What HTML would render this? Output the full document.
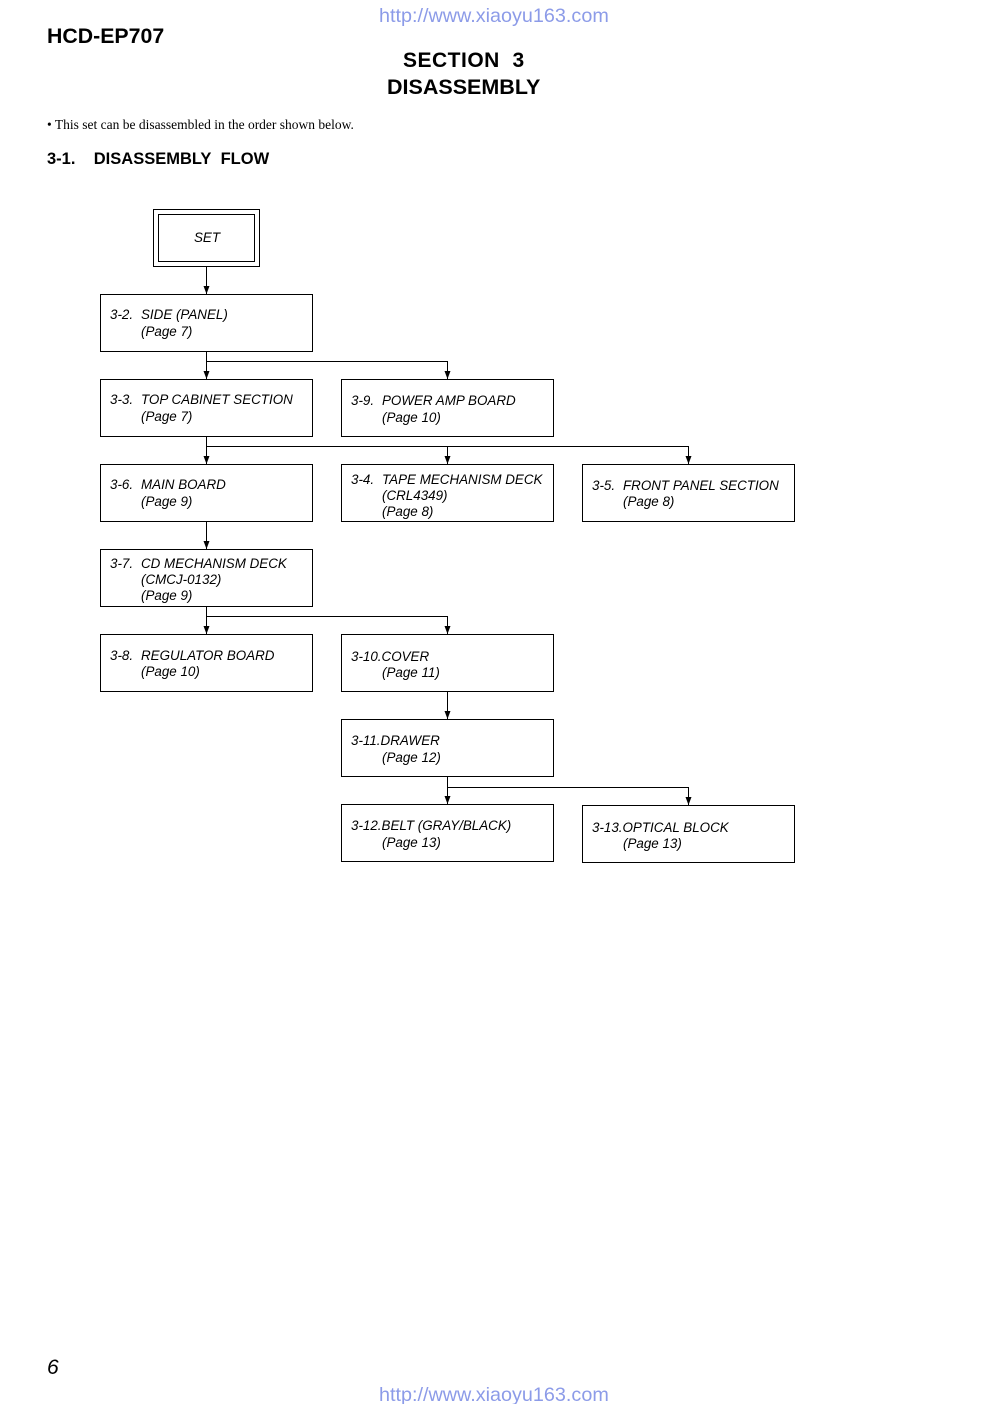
<!DOCTYPE html>
<html><head><meta charset="utf-8"><style>
body{margin:0;background:#fff;}
.p{position:relative;width:992px;height:1404px;overflow:hidden;font-family:"Liberation Sans",sans-serif;}
.a{position:absolute;white-space:nowrap;}
</style></head><body><div class="p">
<div class="a" style="left:379px;top:5px;font-size:19.8px;color:#8c9be8;">http://www.xiaoyu163.com</div>
<div class="a" style="left:47px;top:24px;font-size:21.3px;font-weight:bold;">HCD-EP707</div>
<div class="a" style="left:403px;top:49px;font-size:21px;font-weight:bold;letter-spacing:0.5px;">SECTION&nbsp;&nbsp;3</div>
<div class="a" style="left:387px;top:75px;font-size:21.5px;font-weight:bold;">DISASSEMBLY</div>
<div class="a" style="left:47px;top:117px;font-size:13.5px;font-family:'Liberation Serif',serif;">• This set can be disassembled in the order shown below.</div>
<div class="a" style="left:47px;top:150px;font-size:16.5px;font-weight:bold;">3-1.&nbsp;&nbsp;&nbsp;&nbsp;DISASSEMBLY&nbsp;&nbsp;FLOW</div>
<div class="a" style="left:47px;top:1356px;font-size:21px;font-style:italic;">6</div>
<div class="a" style="left:379px;top:1384px;font-size:19.8px;color:#8c9be8;">http://www.xiaoyu163.com</div>
<svg class="a" style="left:0;top:0" width="992" height="1404" font-family="Liberation Sans, sans-serif" font-size="13.4" font-style="italic">
<g fill="none" stroke="#000" stroke-width="1">
<rect x="153.5" y="209.5" width="106" height="57"/>
<rect x="158.5" y="214.5" width="96" height="47"/>
<rect x="100.5" y="294.5" width="212" height="57"/>
<rect x="100.5" y="379.5" width="212" height="57"/>
<rect x="341.5" y="379.5" width="212" height="57"/>
<rect x="100.5" y="464.5" width="212" height="57"/>
<rect x="341.5" y="464.5" width="212" height="57"/>
<rect x="582.5" y="464.5" width="212" height="57"/>
<rect x="100.5" y="549.5" width="212" height="57"/>
<rect x="100.5" y="634.5" width="212" height="57"/>
<rect x="341.5" y="634.5" width="212" height="57"/>
<rect x="341.5" y="719.5" width="212" height="57"/>
<rect x="341.5" y="804.5" width="212" height="57"/>
<rect x="582.5" y="805.5" width="212" height="57"/>
<path d="M206.5 267V294 M206.5 352V379 M206.5 361.5H447.5V379 M206.5 437V464 M206.5 446.5H688.5V464 M447.5 446.5V464 M206.5 522V549 M206.5 607V634 M206.5 616.5H447.5V634 M447.5 692V719 M447.5 777V804 M447.5 787.5H688.5V805"/>
</g>
<g fill="#000">
<path d="M203.5 286L206.5 294L209.5 286z M203.5 371L206.5 379L209.5 371z M444.5 371L447.5 379L450.5 371z M203.5 456L206.5 464L209.5 456z M444.5 456L447.5 464L450.5 456z M685.5 456L688.5 464L691.5 456z M203.5 541L206.5 549L209.5 541z M203.5 626L206.5 634L209.5 626z M444.5 626L447.5 634L450.5 626z M444.5 711L447.5 719L450.5 711z M444.5 796L447.5 804L450.5 796z M685.5 797L688.5 805L691.5 797z"/>
<text x="194" y="242">SET</text>
<text x="110" y="319">3-2.</text><text x="141" y="319">SIDE (PANEL)</text><text x="141" y="336">(Page 7)</text>
<text x="110" y="404">3-3.</text><text x="141" y="404">TOP CABINET SECTION</text><text x="141" y="421">(Page 7)</text>
<text x="351" y="405">3-9.</text><text x="382" y="405">POWER AMP BOARD</text><text x="382" y="422">(Page 10)</text>
<text x="110" y="489">3-6.</text><text x="141" y="489">MAIN BOARD</text><text x="141" y="506">(Page 9)</text>
<text x="351" y="484">3-4.</text><text x="382" y="484">TAPE MECHANISM DECK</text><text x="382" y="500">(CRL4349)</text><text x="382" y="516">(Page 8)</text>
<text x="592" y="490">3-5.</text><text x="623" y="490">FRONT PANEL SECTION</text><text x="623" y="506">(Page 8)</text>
<text x="110" y="568">3-7.</text><text x="141" y="568">CD MECHANISM DECK</text><text x="141" y="584">(CMCJ-0132)</text><text x="141" y="600">(Page 9)</text>
<text x="110" y="660">3-8.</text><text x="141" y="660">REGULATOR BOARD</text><text x="141" y="676">(Page 10)</text>
<text x="351" y="661">3-10.COVER</text><text x="382" y="677">(Page 11)</text>
<text x="351" y="745">3-11.DRAWER</text><text x="382" y="762">(Page 12)</text>
<text x="351" y="830">3-12.BELT (GRAY/BLACK)</text><text x="382" y="847">(Page 13)</text>
<text x="592" y="832">3-13.OPTICAL BLOCK</text><text x="623" y="848">(Page 13)</text>
</g>
</svg>
</div></body></html>
